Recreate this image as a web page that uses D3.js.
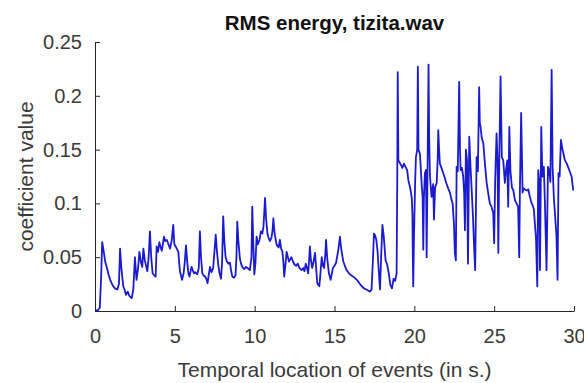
<!DOCTYPE html>
<html>
<head>
<meta charset="utf-8">
<script src="https://cdn.jsdelivr.net/npm/d3@7"></script>
<style>
  html, body { margin: 0; padding: 0; background: #fff; }
  svg { display: block; font-family: "Liberation Sans", Arial, sans-serif; }
</style>
</head>
<body>
<svg id="chart" width="584" height="383"></svg>
<script>
// RMS energy frames: time (s) and coefficient value
const times = [
  0.00,0.20,0.30,0.38,0.45,0.55,0.65,0.75,0.85,0.95,1.10,1.25,1.40,1.50,1.57,1.65,1.77,1.85,1.94,2.05,
  2.15,2.30,2.40,2.50,2.60,2.70,2.78,2.88,2.96,3.03,3.12,3.20,3.28,3.36,3.44,3.52,3.61,3.72,3.80,3.86,
  3.95,4.03,4.10,4.18,4.25,4.32,4.40,4.50,4.60,4.70,4.80,4.90,4.97,5.05,5.15,5.22,5.27,5.32,5.40,5.45,
  5.55,5.62,5.70,5.78,5.85,5.92,6.00,6.05,6.12,6.20,6.28,6.40,6.50,6.57,6.64,6.72,6.80,6.89,6.97,7.05,
  7.12,7.20,7.30,7.40,7.48,7.56,7.64,7.72,7.80,7.89,7.96,8.03,8.10,8.18,8.26,8.35,8.45,8.52,8.60,8.70,
  8.80,8.86,8.91,8.98,9.08,9.15,9.22,9.35,9.45,9.55,9.70,9.80,9.85,9.92,9.98,10.05,10.12,10.20,10.30,10.39,
  10.48,10.55,10.65,10.72,10.80,10.85,10.95,11.05,11.12,11.17,11.25,11.37,11.45,11.50,11.58,11.66,11.74,11.80,11.85,11.92,
  12.00,12.08,12.15,12.22,12.30,12.40,12.50,12.60,12.70,12.80,12.94,13.05,13.12,13.20,13.28,13.35,13.40,13.46,13.52,13.60,
  13.68,13.78,13.85,13.92,14.00,14.05,14.12,14.20,14.28,14.35,14.42,14.47,14.55,14.65,14.76,14.85,14.90,15.00,15.10,15.24,
  15.34,15.42,15.55,15.65,15.76,15.90,16.07,16.25,16.40,16.55,16.70,16.85,17.00,17.10,17.22,17.32,17.40,17.47,17.55,17.62,
  17.70,17.76,17.85,17.92,18.00,18.08,18.20,18.30,18.40,18.50,18.60,18.70,18.80,18.89,18.93,18.96,19.00,19.08,19.15,19.25,
  19.35,19.45,19.55,19.62,19.70,19.77,19.84,19.88,19.90,19.93,19.98,20.05,20.10,20.18,20.22,20.26,20.35,20.41,20.47,20.52,
  20.56,20.60,20.66,20.73,20.77,20.82,20.89,20.93,20.98,21.08,21.18,21.23,21.30,21.40,21.46,21.50,21.55,21.60,21.70,21.81,
  21.90,22.00,22.12,22.23,22.32,22.40,22.48,22.54,22.60,22.65,22.72,22.81,22.86,22.90,22.98,23.06,23.12,23.17,23.23,23.30,
  23.36,23.44,23.52,23.60,23.68,23.75,23.81,23.90,23.98,24.06,24.10,24.15,24.22,24.32,24.42,24.53,24.62,24.73,24.83,24.94,
  25.00,25.06,25.15,25.21,25.26,25.32,25.40,25.48,25.57,25.67,25.74,25.82,25.88,25.95,26.02,26.11,26.20,26.30,26.40,26.50,
  26.57,26.61,26.69,26.78,26.85,26.93,27.05,27.14,27.24,27.35,27.42,27.49,27.55,27.62,27.70,27.76,27.82,27.87,27.95,28.02,
  28.11,28.18,28.28,28.37,28.45,28.52,28.60,28.66,28.74,28.82,28.90,28.97,29.03,29.10,29.18,29.28,29.36,29.43,29.55,29.70,
  29.85,29.95
];
const rmsValues = [
  0.000,0.001,0.003,0.030,0.064,0.055,0.045,0.040,0.034,0.029,0.024,0.021,0.020,0.025,0.058,0.040,0.023,0.020,0.015,0.018,
  0.014,0.012,0.020,0.050,0.029,0.040,0.055,0.045,0.041,0.058,0.047,0.042,0.037,0.050,0.074,0.050,0.035,0.033,0.032,0.060,
  0.055,0.064,0.060,0.056,0.062,0.069,0.065,0.066,0.062,0.058,0.065,0.080,0.062,0.060,0.057,0.055,0.045,0.037,0.032,0.029,
  0.035,0.045,0.061,0.045,0.035,0.032,0.038,0.041,0.038,0.035,0.036,0.034,0.040,0.074,0.050,0.035,0.033,0.032,0.030,0.026,
  0.033,0.041,0.036,0.040,0.055,0.071,0.055,0.043,0.035,0.030,0.045,0.088,0.065,0.050,0.046,0.044,0.045,0.038,0.032,0.031,
  0.033,0.050,0.083,0.065,0.048,0.044,0.041,0.039,0.041,0.040,0.038,0.050,0.097,0.060,0.034,0.045,0.069,0.062,0.066,0.074,
  0.072,0.078,0.105,0.085,0.072,0.069,0.065,0.068,0.075,0.086,0.072,0.062,0.060,0.059,0.066,0.058,0.055,0.045,0.032,0.042,
  0.055,0.050,0.046,0.048,0.050,0.046,0.043,0.042,0.044,0.040,0.038,0.040,0.037,0.044,0.040,0.035,0.045,0.060,0.048,0.040,
  0.045,0.054,0.040,0.026,0.024,0.023,0.035,0.050,0.042,0.040,0.052,0.066,0.048,0.035,0.029,0.036,0.040,0.042,0.045,0.057,
  0.069,0.058,0.046,0.042,0.038,0.035,0.033,0.031,0.029,0.026,0.023,0.021,0.020,0.019,0.018,0.020,0.045,0.072,0.070,0.066,
  0.055,0.040,0.020,0.050,0.080,0.070,0.047,0.043,0.035,0.024,0.021,0.030,0.028,0.035,0.120,0.222,0.140,0.138,0.136,0.133,
  0.137,0.134,0.131,0.122,0.117,0.112,0.105,0.090,0.057,0.023,0.070,0.120,0.143,0.150,0.227,0.150,0.146,0.131,0.115,0.106,
  0.057,0.105,0.128,0.131,0.050,0.120,0.229,0.160,0.125,0.106,0.118,0.085,0.115,0.119,0.140,0.168,0.150,0.137,0.133,0.128,
  0.124,0.119,0.114,0.110,0.104,0.100,0.081,0.054,0.047,0.134,0.130,0.213,0.150,0.131,0.133,0.125,0.110,0.075,0.150,0.140,
  0.044,0.162,0.134,0.110,0.085,0.057,0.038,0.143,0.130,0.208,0.175,0.171,0.161,0.156,0.137,0.119,0.110,0.100,0.097,0.091,
  0.063,0.120,0.165,0.140,0.054,0.140,0.218,0.143,0.140,0.119,0.131,0.140,0.097,0.171,0.130,0.115,0.112,0.103,0.100,0.097,
  0.050,0.110,0.184,0.110,0.114,0.113,0.112,0.113,0.106,0.100,0.098,0.094,0.081,0.068,0.023,0.131,0.120,0.038,0.171,0.125,
  0.134,0.100,0.038,0.134,0.130,0.120,0.224,0.134,0.105,0.088,0.070,0.029,0.128,0.125,0.159,0.150,0.145,0.140,0.137,0.131,
  0.125,0.112
];
const xTicks = [0, 5, 10, 15, 20, 25, 30];
const yTicks = [0, 0.05, 0.1, 0.15, 0.2, 0.25];
const xTickLabels = ["0", "5", "10", "15", "20", "25", "30"];
const yTickLabels = ["0", "0.05", "0.1", "0.15", "0.2", "0.25"];
const chartTitle = "RMS energy, tizita.wav";
const xLabel = "Temporal location of events (in s.)";
const yLabel = "coefficient value";

const svg = d3.select("#chart");
const plot = { left: 95, right: 574, top: 42, bottom: 311 };

const x = d3.scaleLinear().domain([0, 30]).range([plot.left, plot.right]);
const y = d3.scaleLinear().domain([0, 0.25]).range([plot.bottom, plot.top]);

const axisColor = "#262626";
const tickTextColor = "#3a3a3a";

// x axis with inward ticks
const xAxis = svg.append("g")
  .attr("transform", `translate(0,${plot.bottom})`)
  .call(d3.axisBottom(x).tickValues(xTicks)
    .tickFormat((d, i) => xTickLabels[i])
    .tickSizeInner(-5).tickSizeOuter(0).tickPadding(18));
xAxis.select(".domain").attr("stroke", axisColor).attr("stroke-width", 1);
xAxis.selectAll(".tick line").attr("stroke", axisColor);
xAxis.selectAll(".tick text")
  .attr("fill", tickTextColor).attr("font-size", 20)
  .attr("font-family", "Liberation Sans, Arial, sans-serif");

// y axis with inward ticks
const yAxis = svg.append("g")
  .attr("transform", `translate(${plot.left},0)`)
  .call(d3.axisLeft(y).tickValues(yTicks)
    .tickFormat((d, i) => yTickLabels[i])
    .tickSizeInner(-5).tickSizeOuter(0).tickPadding(13));
yAxis.select(".domain").attr("stroke", axisColor).attr("stroke-width", 1);
yAxis.selectAll(".tick line").attr("stroke", axisColor);
yAxis.selectAll(".tick text")
  .attr("fill", tickTextColor).attr("font-size", 20)
  .attr("font-family", "Liberation Sans, Arial, sans-serif");

// RMS curve
const pts = times.map((t, i) => [t, rmsValues[i]]);
const line = d3.line().x(d => x(d[0])).y(d => y(d[1]));
svg.append("path")
  .datum(pts)
  .attr("d", line)
  .attr("fill", "none")
  .attr("stroke", "#1a1ad0")
  .attr("stroke-width", 1.8)
  .attr("stroke-linejoin", "round");

// title
svg.append("text")
  .attr("x", (plot.left + plot.right) / 2)
  .attr("y", 30)
  .attr("text-anchor", "middle")
  .attr("font-size", 20.5)
  .attr("font-weight", "bold")
  .attr("fill", "#111")
  .text(chartTitle);

// axis labels
svg.append("text")
  .attr("x", (plot.left + plot.right) / 2)
  .attr("y", 377)
  .attr("text-anchor", "middle")
  .attr("font-size", 21)
  .attr("fill", tickTextColor)
  .text(xLabel);

svg.append("text")
  .attr("transform", `translate(33,${(plot.top + plot.bottom) / 2}) rotate(-90)`)
  .attr("text-anchor", "middle")
  .attr("font-size", 21)
  .attr("fill", tickTextColor)
  .text(yLabel);
</script>
</body>
</html>
